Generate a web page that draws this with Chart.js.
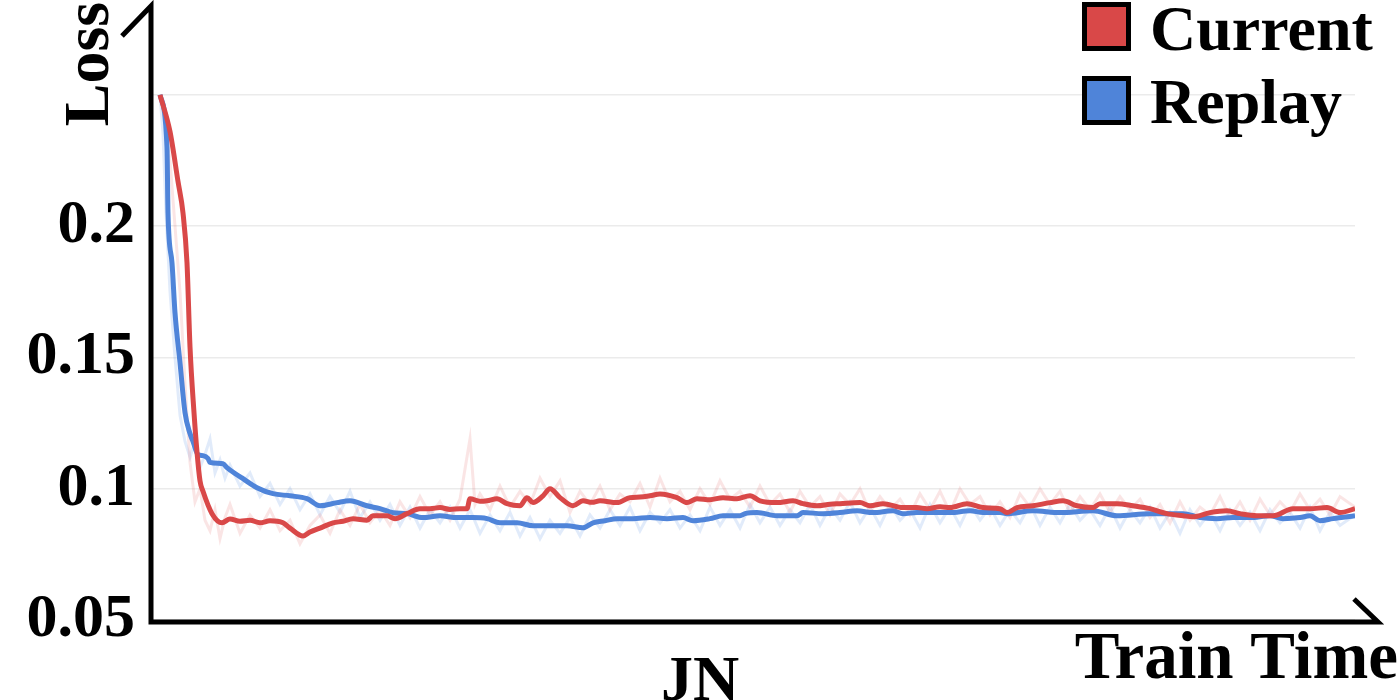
<!DOCTYPE html>
<html>
<head>
<meta charset="utf-8">
<script src="https://cdn.jsdelivr.net/npm/chart.js@4.4.1/dist/chart.umd.min.js"></script>
<style>
html,body{margin:0;padding:0;background:#fff;}
#wrap{width:1400px;height:700px;}
</style>
</head>
<body>
<div id="wrap"><canvas id="c" width="1400" height="700"></canvas></div>
<script>
// ---- data (training step in thousands, loss) ----
const seriesNames = ['Current', 'Replay'];
const xAxisTitle = 'Train Time';
const yAxisTitle = 'Loss';
const panelTitle = 'JN';
const yTickValues = [0.05, 0.1, 0.15, 0.2, 0.25];
const yTickLabels = ['0.05', '0.1', '0.15', '0.2', ''];

const currentSteps = [1.0,2.0,2.8,3.3,3.7,4.0,4.4,4.7,5.0,5.3,6.2,7.2,8.0,9.0,10.0,11.0,12.0,13.3,14.0,15.3,16.0,17.0,18.3,19.3,20.3,21.7,22.3,23.7,24.5,25.7,27.0,28.0,29.0,30.0,31.0,31.7,32.0,33.0,33.7,34.7,35.7,37.0,37.7,38.3,39.3,40.0,41.0,42.3,43.3,44.2,45.0,46.7,48.0,49.0,50.0,51.0,52.7,53.7,54.7,56.0,57.3,58.7,60.0,61.0,62.7,64.3,65.3,66.7,68.0,69.0,71.0,72.0,73.3,75.3,76.7,77.7,79.0,80.0,81.7,83.3,85.0,85.7,86.7,88.3,90.0,91.3,92.7,94.3,95.0,96.7,98.3,100.0,101.7,103.3,104.3,106.0,107.7,109.0,110.7,112.3,114.3,116.0,117.7,119.0,120.5];
const currentLoss  = [0.250,0.236,0.217,0.205,0.186,0.154,0.129,0.114,0.103,0.099,0.0905,0.087,0.0885,0.0876,0.088,0.087,0.0878,0.087,0.085,0.082,0.0835,0.085,0.087,0.0876,0.0886,0.088,0.0897,0.0897,0.0886,0.0905,0.0924,0.0924,0.0928,0.0921,0.0924,0.0924,0.0962,0.0952,0.0954,0.0962,0.0943,0.0935,0.0966,0.0947,0.0973,0.100,0.0966,0.0935,0.0954,0.0948,0.0954,0.0947,0.0966,0.0968,0.0973,0.098,0.0966,0.0947,0.0962,0.0958,0.0966,0.0962,0.0973,0.0954,0.0947,0.0954,0.0943,0.0935,0.0941,0.0943,0.0947,0.0935,0.0943,0.0928,0.0928,0.0924,0.0931,0.0928,0.0943,0.0928,0.0924,0.0909,0.0928,0.0935,0.0947,0.0954,0.0935,0.0928,0.0943,0.0943,0.0935,0.0924,0.0905,0.0897,0.0893,0.0909,0.0916,0.0905,0.0897,0.0897,0.0924,0.0924,0.0928,0.0909,0.0924];

const replaySteps = [1.0,1.7,1.8,2.2,2.5,3.0,3.5,4.0,4.3,4.8,5.3,5.8,6.0,7.3,7.7,8.5,9.3,10.7,12.3,14.0,15.7,17.0,18.7,20.0,21.7,23.0,24.3,25.7,27.3,29.0,30.7,32.3,33.7,35.0,36.7,38.3,40.0,41.7,43.3,44.3,45.5,46.7,48.3,50.0,51.7,53.3,54.3,56.0,57.3,59.0,59.5,60.7,62.7,64.7,65.3,67.3,69.0,70.7,72.3,74.3,75.3,76.7,78.3,80.0,82.0,83.3,85.0,85.7,88.3,91.0,94.3,96.7,100.0,101.7,103.3,105.0,106.7,108.3,110.0,112.0,113.3,115.0,116.0,117.0,118.3,120.5];
const replayLoss  = [0.250,0.230,0.205,0.186,0.167,0.148,0.129,0.121,0.118,0.113,0.1126,0.1115,0.110,0.1095,0.108,0.1058,0.1038,0.1004,0.0981,0.0973,0.0962,0.0935,0.0947,0.0954,0.0935,0.0924,0.0909,0.0905,0.089,0.0897,0.089,0.089,0.0886,0.087,0.087,0.0859,0.0859,0.0859,0.0851,0.087,0.0878,0.0886,0.0886,0.089,0.0886,0.089,0.0878,0.0886,0.0897,0.0897,0.0905,0.0909,0.0897,0.0897,0.0909,0.0905,0.0909,0.0916,0.0909,0.0916,0.0905,0.0909,0.0909,0.0909,0.0916,0.0909,0.0909,0.0905,0.0916,0.0909,0.0916,0.0897,0.0905,0.0905,0.0905,0.089,0.0886,0.089,0.089,0.0897,0.0886,0.089,0.0897,0.0878,0.0886,0.0897];

const currentRawSteps = [1.0,1.5,2.0,2.5,3.0,3.5,4.0,4.5,5.0,5.5,6.0,6.5,7.0,7.5,8.0,9.0,10.0,11.0,12.0,13.0,14.0,15.0,16.0,17.0,18.0,19.0,20.0,21.0,22.0,23.0,24.0,25.0,26.0,27.0,28.0,29.0,30.0,31.0,32.0,32.5,33.0,34.0,35.0,36.0,37.0,38.0,39.0,40.0,41.0,42.0,43.0,44.0,45.0,46.0,47.0,48.0,49.0,50.0,51.0,52.0,53.0,54.0,55.0,56.0,57.0,58.0,59.0,60.0,61.0,62.0,63.0,64.0,65.0,66.0,67.0,68.0,69.0,70.0,71.0,72.0,73.0,74.0,75.0,76.0,77.0,78.0,79.0,80.0,81.0,82.0,83.0,84.0,85.0,86.0,87.0,88.0,89.0,90.0,91.0,92.0,93.0,94.0,95.0,96.0,97.0,98.0,99.0,100.0,101.0,102.0,103.0,104.0,105.0,106.0,107.0,108.0,109.0,110.0,111.0,112.0,113.0,114.0,115.0,116.0,117.0,118.0,119.0,120.5];
const currentRawLoss  = [0.250,0.240,0.225,0.200,0.175,0.140,0.110,0.095,0.100,0.088,0.084,0.092,0.081,0.089,0.094,0.083,0.090,0.085,0.092,0.084,0.088,0.079,0.086,0.090,0.083,0.092,0.086,0.094,0.087,0.092,0.086,0.095,0.089,0.097,0.090,0.095,0.088,0.096,0.119,0.094,0.098,0.092,0.101,0.093,0.099,0.094,0.104,0.097,0.103,0.091,0.099,0.094,0.101,0.092,0.098,0.095,0.102,0.093,0.104,0.095,0.099,0.092,0.100,0.094,0.103,0.096,0.099,0.093,0.101,0.094,0.098,0.091,0.099,0.093,0.097,0.090,0.098,0.094,0.100,0.091,0.097,0.092,0.096,0.090,0.098,0.092,0.099,0.091,0.100,0.094,0.097,0.090,0.095,0.089,0.098,0.093,0.100,0.094,0.099,0.091,0.097,0.092,0.098,0.091,0.097,0.092,0.096,0.089,0.094,0.087,0.095,0.088,0.093,0.090,0.097,0.089,0.095,0.088,0.096,0.090,0.095,0.091,0.098,0.092,0.096,0.090,0.097,0.093];

const replayRawSteps = [1.0,1.3,1.6,2.0,2.5,3.0,3.5,4.0,4.5,5.0,5.5,6.0,6.5,7.0,7.5,8.0,9.0,10.0,11.0,12.0,13.0,14.0,15.0,16.0,17.0,18.0,19.0,20.0,21.0,22.0,23.0,24.0,25.0,26.0,27.0,28.0,29.0,30.0,31.0,32.0,33.0,34.0,35.0,36.0,37.0,38.0,39.0,40.0,41.0,42.0,43.0,44.0,45.0,46.0,47.0,48.0,49.0,50.0,51.0,52.0,53.0,54.0,55.0,56.0,57.0,58.0,59.0,60.0,61.0,62.0,63.0,64.0,65.0,66.0,67.0,68.0,69.0,70.0,71.0,72.0,73.0,74.0,75.0,76.0,77.0,78.0,79.0,80.0,81.0,82.0,83.0,84.0,85.0,86.0,87.0,88.0,89.0,90.0,91.0,92.0,93.0,94.0,95.0,96.0,97.0,98.0,99.0,100.0,101.0,102.0,103.0,104.0,105.0,106.0,107.0,108.0,109.0,110.0,111.0,112.0,113.0,114.0,115.0,116.0,117.0,118.0,119.0,120.5];
const replayRawLoss  = [0.250,0.235,0.205,0.175,0.150,0.128,0.118,0.112,0.118,0.108,0.113,0.119,0.106,0.111,0.104,0.109,0.101,0.106,0.097,0.102,0.094,0.100,0.092,0.098,0.090,0.097,0.091,0.099,0.089,0.095,0.088,0.094,0.086,0.093,0.085,0.092,0.087,0.093,0.085,0.092,0.083,0.090,0.084,0.091,0.082,0.089,0.081,0.088,0.083,0.089,0.082,0.090,0.085,0.092,0.086,0.093,0.084,0.091,0.087,0.092,0.085,0.090,0.084,0.093,0.086,0.092,0.085,0.094,0.087,0.093,0.086,0.092,0.087,0.094,0.086,0.093,0.088,0.095,0.087,0.093,0.086,0.094,0.088,0.092,0.085,0.094,0.087,0.093,0.086,0.094,0.088,0.093,0.086,0.092,0.087,0.094,0.086,0.093,0.087,0.094,0.088,0.092,0.086,0.093,0.085,0.092,0.087,0.093,0.085,0.091,0.083,0.092,0.086,0.091,0.084,0.092,0.086,0.091,0.084,0.092,0.087,0.091,0.085,0.093,0.084,0.091,0.086,0.090];

// ---- styles ----
const RED = '#d94848';
const BLUE = '#4f84d9';
const RED_FAINT = 'rgba(230,110,110,0.18)';
const BLUE_FAINT = 'rgba(90,145,230,0.18)';
const FONT = '"Liberation Serif", "Times New Roman", serif';

function pts(xs, ys) { return xs.map((x, i) => ({ x: x, y: ys[i] })); }

const decor = {
  id: 'decor',
  afterDraw(chart) {
    const ctx = chart.ctx;
    const a = chart.chartArea;
    ctx.save();
    ctx.strokeStyle = '#000';
    ctx.lineWidth = 5;
    ctx.lineCap = 'butt';
    ctx.lineJoin = 'miter';
    ctx.beginPath();
    ctx.moveTo(122, 36);
    ctx.lineTo(a.left + 1, 6);
    ctx.lineTo(a.left + 1, a.bottom + 2);
    ctx.lineTo(1378, a.bottom + 2);
    ctx.lineTo(1354, 599);
    ctx.stroke();

    ctx.fillStyle = '#000';
    ctx.save();
    ctx.translate(108, 64);
    ctx.rotate(-Math.PI / 2);
    ctx.font = 'bold 64px ' + FONT;
    ctx.textAlign = 'center';
    ctx.textBaseline = 'alphabetic';
    ctx.fillText(yAxisTitle, 0, 0);
    ctx.restore();
    ctx.font = 'bold 67px ' + FONT;
    ctx.textAlign = 'right';
    ctx.textBaseline = 'alphabetic';
    ctx.fillText(xAxisTitle, 1398, 678);
    ctx.font = 'bold 64px ' + FONT;
    ctx.textAlign = 'center';
    ctx.fillText(panelTitle, 700, 700);

    const items = [
      { label: chart.data.datasets[0].label, color: RED, y: 2, base: 50 },
      { label: chart.data.datasets[1].label, color: BLUE, y: 76, base: 123 }
    ];
    items.forEach(it => {
      ctx.fillStyle = it.color;
      ctx.fillRect(1082, it.y, 49, 49);
      ctx.lineWidth = 5;
      ctx.strokeStyle = '#000';
      ctx.strokeRect(1084.5, it.y + 2.5, 44, 44);
      ctx.fillStyle = '#000';
      ctx.font = 'bold 64px ' + FONT;
      ctx.textAlign = 'left';
      ctx.fillText(it.label, 1150, it.base);
    });
    ctx.restore();
  }
};

new Chart(document.getElementById('c'), {
  type: 'line',
  data: {
    datasets: [
      { label: seriesNames[0], data: pts(currentSteps, currentLoss), borderColor: RED, borderWidth: 5, pointRadius: 0, tension: 0, cubicInterpolationMode: 'monotone', fill: false },
      { label: seriesNames[1], data: pts(replaySteps, replayLoss), borderColor: BLUE, borderWidth: 5, pointRadius: 0, tension: 0, cubicInterpolationMode: 'monotone', fill: false },
      { label: seriesNames[0] + ' raw', data: pts(currentRawSteps, currentRawLoss), borderColor: RED_FAINT, borderWidth: 3, pointRadius: 0, tension: 0, fill: false },
      { label: seriesNames[1] + ' raw', data: pts(replayRawSteps, replayRawLoss), borderColor: BLUE_FAINT, borderWidth: 3, pointRadius: 0, tension: 0, fill: false }
    ]
  },
  options: {
    responsive: false,
    animation: false,
    devicePixelRatio: 1,
    layout: { padding: { top: 5, right: 45, left: 0, bottom: 0 } },
    plugins: { legend: { display: false }, tooltip: { enabled: false } },
    scales: {
      x: {
        type: 'linear', min: 0, max: 120.5,
        border: { display: false },
        grid: { display: false, drawTicks: false },
        ticks: { display: false },
        afterFit(s) { s.height = 80; s.paddingLeft = 0; s.paddingRight = 0; }
      },
      y: {
        type: 'linear', min: 0.05, max: 0.2842,
        border: { display: false },
        grid: { color: '#ebebeb', lineWidth: 1.5, drawTicks: false },
        afterBuildTicks(s) { s.ticks = yTickValues.map(v => ({ value: v })); },
        ticks: {
          padding: 15,
          color: '#000',
          font: { family: FONT, weight: 'bold', size: 62 },
          callback: (v, i) => yTickLabels[i]
        },
        afterFit(s) { s.width = 150; s.paddingTop = 0; s.paddingBottom = 0; }
      }
    }
  },
  plugins: [decor]
});
</script>
</body>
</html>
